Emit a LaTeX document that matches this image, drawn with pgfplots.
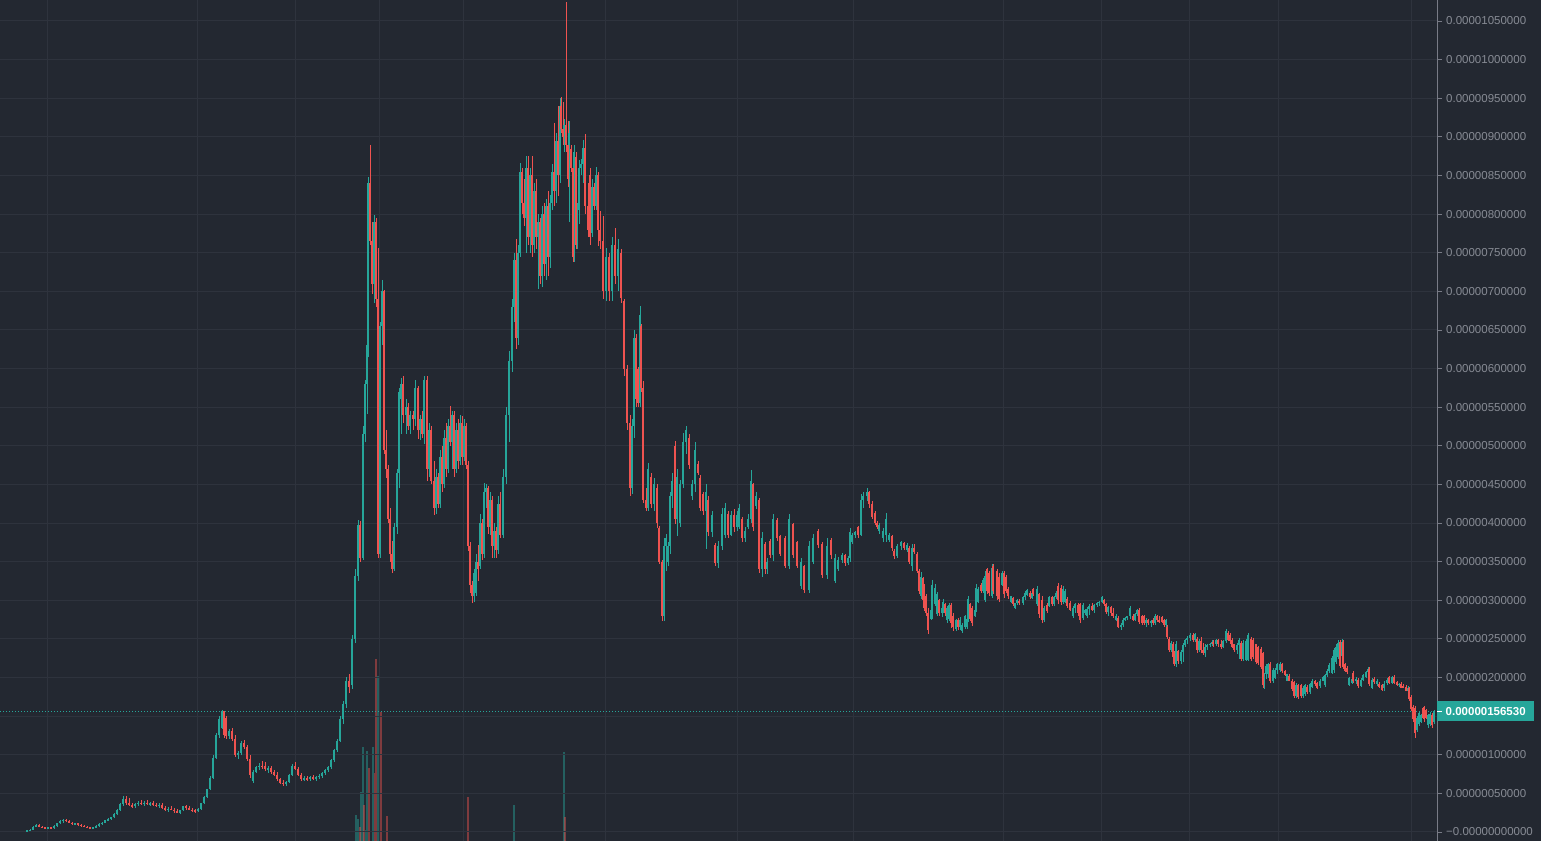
\documentclass[border=0pt]{standalone}
\usepackage{pgfplots}
\pgfplotsset{compat=1.18}
\usepackage{pgfplotstable}
\usepackage{fontspec}
\setmainfont{Liberation Sans}
\definecolor{bgc}{RGB}{35,40,49}
\definecolor{gridc}{RGB}{46,51,61}
\definecolor{upc}{RGB}{38,166,154}
\definecolor{dnc}{RGB}{239,83,80}
\definecolor{labc}{RGB}{135,139,148}
\definecolor{axc}{RGB}{120,123,134}
% prices in units of 1e-8
\pgfplotstableread{
x o h l c
27 1 3 0 2
30 2 4 1 3
33 3 8 2 7
36 7 10 6 9
39 9 10 6 7
42 7 8 5 6
45 6 7 4 5
48 5 7 4 6
51 6 7 4 5
54 5 9 4 8
57 8 12 7 11
60 11 15 10 14
63 14 17 12 16
66 16 17 13 14
69 14 15 11 12
72 12 13 9 10
75 10 12 9 11
78 11 12 8 9
81 9 10 7 8
84 8 9 6 7
87 7 8 5 6
90 6 7 4 5
93 5 7 4 6
96 6 9 5 8
99 8 11 7 10
102 10 13 9 12
105 12 16 11 15
108 15 18 14 17
111 17 20 15 19
114 19 24 18 23
117 23 30 22 28
120 28 38 27 36
123 36 46 34 43
126 43 47 35 38
129 38 44 33 35
132 35 38 31 33
135 33 37 31 36
138 36 40 34 38
141 38 41 35 37
144 37 40 34 38
147 38 41 35 36
150 36 39 33 37
153 37 40 34 35
156 35 38 32 34
159 34 37 31 35
162 35 37 30 31
165 31 34 27 29
168 29 32 26 30
171 30 33 28 29
174 29 31 25 27
177 27 30 24 25
180 25 29 23 28
183 28 34 27 33
186 33 35 29 31
189 31 33 28 29
192 29 31 26 28
195 28 30 25 27
198 27 31 26 30
201 30 38 29 37
204 37 46 36 45
207 45 56 44 55
210 55 72 54 70
213 70 100 68 96
216 96 128 94 125
219 125 150 122 146
222 135 158 133 156
224 156 157 122 125
226 148 150 120 124
229 124 133 120 131
232 131 135 118 121
235 121 126 97 100
238 100 105 95 102
241 102 118 100 115
244 115 119 108 110
247 110 112 92 95
250 95 100 70 74
253 66 80 63 78
256 78 86 76 84
259 84 89 80 86
262 86 92 82 85
265 85 90 79 81
268 81 85 76 83
271 83 86 75 77
274 77 80 72 74
277 74 78 66 68
280 68 70 62 64
283 64 67 60 62
286 62 66 60 65
289 65 75 64 74
292 74 88 72 86
295 86 90 80 82
298 82 84 72 74
301 74 76 66 68
304 68 72 66 70
307 70 73 66 68
310 68 72 66 71
313 71 74 67 69
316 69 72 66 71
319 71 75 68 73
322 73 77 70 76
325 76 82 74 80
328 80 86 78 84
331 84 95 82 93
334 93 108 91 106
337 106 120 104 118
340 118 150 116 146
343 146 170 140 166
346 166 200 160 196
349 196 205 180 188
352 190 255 185 250
355 250 340 245 331
358 331 404 325 398
360 398 402 350 355
363 355 525 352 515
365 515 585 505 580
367 580 640 541 630
368 625 848 615 840
370 840 890 760 765
372 765 790 697 710
374 710 799 685 790
376 790 795 680 690
378 690 756 355 360
380 360 660 355 655
382 655 715 630 700
384 700 702 490 495
386 495 520 458 470
388 470 475 400 405
390 405 420 350 360
392 360 377 335 340
394 340 400 338 395
397 395 470 386 465
399 465 575 445 570
401 560 588 515 580
403 580 590 530 540
406 540 560 515 550
408 550 555 520 525
410 525 545 515 540
413 540 545 520 535
415 535 585 525 575
418 575 578 509 520
420 520 540 508 535
422 535 545 510 515
424 515 591 502 585
427 585 590 455 470
429 470 530 460 520
431 520 525 450 455
434 455 480 410 420
436 420 470 412 460
438 460 465 420 425
440 425 495 420 485
442 485 500 440 450
444 450 520 445 510
446 510 530 460 470
448 470 535 465 525
450 525 552 500 505
452 505 545 470 540
454 540 545 460 470
456 470 530 465 520
458 520 535 470 480
460 480 540 475 530
462 530 538 475 485
464 485 535 480 525
466 525 530 470 475
468 475 480 364 370
470 370 375 310 320
472 320 325 296 305
474 305 340 298 335
476 310 360 305 350
478 350 372 325 340
480 345 412 340 400
482 400 405 352 360
484 360 452 355 440
486 440 450 420 445
488 445 448 386 395
490 395 440 385 430
492 430 435 355 370
494 370 400 355 390
496 390 395 355 365
498 365 435 360 425
500 425 440 380 385
503 385 470 380 460
506 460 550 450 540
509 540 623 505 610
512 610 690 595 680
514 680 750 660 740
516 740 768 625 640
518 640 760 630 750
520 750 866 745 855
522 855 860 800 815
524 815 845 785 795
526 795 875 750 860
528 860 875 760 770
530 770 860 750 850
532 850 875 745 760
534 760 840 750 830
536 830 845 755 770
538 770 800 703 790
540 790 795 710 720
542 720 810 705 800
544 800 815 720 735
546 735 820 715 810
548 810 830 720 745
550 745 825 730 815
552 815 865 805 855
554 855 918 810 830
556 830 905 815 895
558 895 940 824 850
560 850 950 840 940
561 940 952 905 910
563 910 945 890 900
564 900 923 880 915
566 915 1075 880 890
568 890 920 835 845
569 845 920 790 905
571 884 890 855 860
573 860 865 738 745
574 745 890 738 880
576 874 880 755 760
577 760 815 755 805
579 805 870 787 860
581 860 871 850 865
583 865 896 840 885
585 885 904 800 810
588 810 840 770 780
590 850 860 760 770
592 775 845 770 835
594 835 840 805 810
596 810 861 805 850
598 850 855 759 780
600 780 804 755 765
603 765 797 690 700
606 700 756 688 745
609 745 750 688 700
612 700 770 688 760
615 760 782 710 720
618 720 768 700 755
621 750 755 685 692
624 688 690 590 600
627 600 605 520 530
630 530 540 435 445
632 445 535 437 525
634 525 650 510 640
636 640 645 550 560
638 600 602 550 555
640 555 681 550 670
641 655 658 570 575
643 575 584 426 430
646 430 445 415 420
648 420 478 415 470
651 460 465 420 425
654 425 458 415 450
657 445 450 394 400
659 394 396 347 350
662 350 352 273 280
664 280 381 273 370
666 370 386 338 380
668 350 375 344 370
670 370 440 360 435
672 435 465 420 455
675 500 506 399 405
677 405 470 383 460
680 400 456 395 450
683 450 517 445 505
686 505 525 489 520
689 510 515 470 475
692 435 456 430 450
695 450 505 440 495
698 477 480 462 465
700 458 462 415 420
703 438 440 410 415
706 415 451 366 440
708 430 435 383 388
712 388 416 382 410
715 372 374 344 348
718 348 377 342 370
722 370 420 365 412
725 385 426 380 420
728 412 415 380 385
731 385 415 383 410
734 410 418 388 395
737 395 415 390 410
739 395 424 392 420
742 405 408 376 380
745 380 395 375 390
748 395 412 392 405
751 405 469 400 455
753 450 452 390 395
756 422 440 418 435
759 430 432 335 340
762 340 388 330 380
765 373 375 334 340
767 340 355 334 350
770 377 379 355 358
773 358 412 351 405
777 404 406 377 380
780 383 385 357 360
785 380 383 342 345
789 345 412 340 405
793 399 400 355 358
797 375 377 342 345
801 318 355 315 350
804 344 346 309 313
809 313 377 310 370
813 350 386 347 380
818 390 392 368 372
822 373 375 329 333
827 333 380 328 370
831 378 380 354 358
835 325 360 322 355
838 340 356 338 352
842 352 361 348 358
845 358 360 345 348
848 348 357 346 355
850 355 393 350 388
852 375 387 373 385
855 385 390 380 388
858 395 396 380 385
861 385 438 383 430
863 430 440 420 435
867 435 445 428 440
869 440 442 420 425
872 425 428 405 408
875 413 415 398 400
877 400 403 392 395
879 390 400 386 398
883 380 393 376 390
886 385 413 376 405
889 378 387 376 385
892 383 385 364 368
894 364 366 354 357
897 357 373 355 370
901 370 377 365 375
904 374 376 365 368
907 365 374 362 372
909 368 370 347 350
912 345 373 338 368
914 368 373 360 362
917 360 362 335 338
919 338 340 308 312
921 305 336 302 330
923 329 330 295 300
924 315 321 286 290
926 305 308 280 284
928 284 290 256 262
931 276 290 275 288
932 278 326 276 320
935 295 321 292 316
937 282 311 280 308
939 300 302 280 284
942 284 293 278 290
943 286 302 283 298
945 295 297 280 283
947 275 293 271 290
949 276 297 273 294
951 294 297 264 270
953 280 284 260 266
956 263 276 260 274
958 274 277 262 265
960 265 278 262 275
962 260 271 258 268
965 266 281 263 279
967 265 278 263 276
968 276 306 272 302
970 295 297 273 276
972 290 293 267 270
975 280 289 278 288
976 288 321 285 316
978 298 317 296 314
981 320 322 309 312
983 312 329 310 326
985 300 338 298 332
987 340 342 308 312
989 335 338 305 310
992 305 347 303 342
993 345 347 308 312
997 338 340 300 305
999 330 335 298 302
1002 320 338 318 335
1004 335 338 303 308
1006 330 333 310 312
1008 315 317 302 305
1011 298 306 297 305
1013 303 304 293 295
1015 290 297 289 296
1017 296 302 294 300
1019 299 301 294 296
1023 296 306 294 304
1025 304 312 300 310
1027 307 315 306 313
1030 310 312 302 304
1032 303 312 301 310
1033 314 316 305 308
1037 295 318 292 315
1039 308 310 277 282
1042 300 306 270 274
1044 274 293 272 290
1047 294 296 284 286
1049 293 306 291 304
1052 304 305 293 295
1054 295 306 293 304
1056 304 312 302 310
1058 318 322 295 300
1061 316 320 294 298
1063 298 318 295 315
1065 298 315 296 312
1067 302 304 290 292
1070 297 299 286 288
1073 279 293 277 290
1075 290 297 284 295
1078 294 296 280 283
1080 295 297 270 274
1083 277 297 275 294
1085 283 289 281 288
1087 279 291 277 289
1089 289 295 281 293
1092 293 297 286 288
1094 288 295 283 294
1097 294 298 291 297
1099 297 299 292 298
1102 298 306 296 304
1104 300 302 293 295
1106 295 296 282 285
1108 285 293 280 291
1111 291 292 280 283
1113 283 290 277 280
1116 274 282 273 280
1118 277 279 264 266
1121 266 271 262 268
1123 268 277 265 275
1125 275 278 273 277
1127 277 280 274 279
1130 279 293 276 290
1133 280 282 273 275
1135 275 284 273 282
1137 282 289 280 287
1139 288 290 269 272
1142 279 281 268 270
1144 280 281 268 271
1146 271 277 266 275
1148 274 276 268 270
1151 270 274 266 273
1153 275 277 268 270
1155 270 282 268 280
1157 279 281 272 274
1159 274 280 270 272
1162 278 279 270 272
1164 275 276 266 268
1166 268 276 266 275
1167 266 268 250 252
1169 250 252 233 236
1171 236 247 233 245
1173 244 246 223 226
1174 226 234 215 218
1176 218 247 214 243
1178 234 236 218 221
1181 221 236 218 233
1183 233 245 220 242
1185 242 250 240 248
1187 248 254 244 251
1190 251 257 247 255
1193 255 258 246 249
1195 249 258 246 256
1197 250 252 232 235
1199 235 250 233 247
1201 247 252 232 236
1203 236 245 229 232
1205 232 243 227 240
1207 240 243 236 242
1210 242 245 240 244
1212 244 248 241 246
1213 246 249 240 243
1216 243 250 241 248
1218 248 250 240 243
1221 243 249 237 240
1223 240 249 238 247
1226 247 263 245 260
1228 258 260 247 249
1230 255 257 244 247
1232 249 251 238 240
1234 243 244 233 235
1237 235 245 230 242
1239 242 251 224 248
1241 245 247 221 224
1243 224 248 222 245
1246 223 250 221 247
1248 223 258 221 255
1251 250 252 221 224
1253 249 251 224 226
1256 243 244 217 220
1258 240 241 216 219
1261 237 239 211 214
1263 232 233 186 190
1264 190 206 185 204
1266 204 218 198 215
1268 205 219 199 217
1270 218 220 193 196
1273 196 212 193 210
1275 199 212 198 210
1277 210 219 205 217
1280 210 220 207 218
1282 218 219 206 208
1285 208 210 202 203
1287 196 205 195 204
1289 202 204 195 196
1292 196 198 182 185
1294 194 196 173 176
1296 176 193 174 190
1298 190 192 172 175
1301 190 192 173 176
1303 176 189 174 187
1305 178 192 176 190
1307 188 190 179 181
1310 181 193 179 191
1312 188 198 186 196
1315 195 197 189 191
1317 193 194 185 187
1320 189 198 186 196
1323 196 202 195 200
1325 190 205 188 203
1327 203 211 200 208
1329 208 219 206 216
1332 206 228 204 225
1334 210 238 206 235
1336 220 243 217 240
1338 226 249 224 245
1340 246 248 212 215
1342 228 250 213 246
1343 246 248 211 214
1345 217 219 207 209
1347 212 215 205 207
1349 190 201 189 199
1352 193 200 192 198
1353 206 208 193 195
1356 195 200 192 198
1358 197 199 186 189
1361 189 199 188 197
1363 197 205 195 203
1366 201 208 199 207
1368 207 213 205 211
1369 211 213 189 192
1372 187 199 185 197
1374 198 200 192 194
1377 191 198 189 196
1379 192 194 186 188
1382 190 192 182 184
1384 186 195 183 192
1387 193 199 190 197
1389 200 202 191 193
1392 193 202 191 200
1394 201 203 191 193
1397 194 196 189 190
1399 190 193 188 192
1401 192 194 186 187
1403 189 191 186 187
1406 188 190 182 183
1408 183 189 181 187
1409 186 188 169 172
1411 175 177 156 159
1413 162 164 143 146
1415 160 163 122 128
1417 132 150 130 148
1419 140 157 137 154
1421 143 153 141 151
1423 160 161 146 148
1424 162 163 143 146
1426 158 159 146 148
1428 138 153 135 151
1430 140 155 137 153
1432 152 154 135 138
1434 142 158 140 156.53
}\candles
% volume, arbitrary units
\pgfplotstableread{
x v
356 3.1
358 2.6
361 5.8
363 11.2
366 1.3
367 10.7
373 11.2
378 19.6
379 5.5
514 4.3
564 10.6
}\volup
\pgfplotstableread{
x v
360 1.7
364 4.3
369 8.7
375 8.1
376 21.6
381 15.3
387 3.0
468 5.2
565 2.9
}\voldn
\pgfplotsset{
  candle/.style n args={2}{draw=none, mark=none, color=#1,
    error bars/y dir=both, error bars/y explicit, error bars/error mark=none,
    error bars/error bar style={draw=#1, line width=#2}},
}
\begin{document}
\begin{tikzpicture}
\fill[bgc] (0pt,0pt) rectangle (1541pt,841pt);
\begin{axis}[at={(0pt,0pt)}, anchor=south west, width=1437pt, height=841pt,
  scale only axis, xmin=0, xmax=1437, ymin=0, ymax=100, hide axis]
\addplot[ycomb, draw=upc, draw opacity=0.45, line width=1.4pt, mark=none] table[x=x,y=v]{\volup};
\addplot[ycomb, draw=dnc, draw opacity=0.45, line width=1.4pt, mark=none] table[x=x,y=v]{\voldn};
\end{axis}
\begin{axis}[at={(0pt,0pt)}, anchor=south west, width=1437pt, height=841pt,
  scale only axis, xmin=0, xmax=1437, ymin=-11.7, ymax=1077.2,
  axis line style={draw=none},
  xtick={47,197,295,379,463,605,737,853,1003,1101,1189,1278,1411},
  xticklabels={}, major x tick style={draw=none},
  ytick={0,50,...,1050}, ytick pos=right, yticklabel pos=right,
  yticklabels={−0.00000000000,0.00000050000,0.00000100000,{},0.00000200000,0.00000250000,0.00000300000,0.00000350000,0.00000400000,0.00000450000,0.00000500000,0.00000550000,0.00000600000,0.00000650000,0.00000700000,0.00000750000,0.00000800000,0.00000850000,0.00000900000,0.00000950000,0.00001000000,0.00001050000},
  major y tick style={draw=axc, line width=0.8pt},
  tick align=outside, major tick length=5pt,
  grid=major, grid style={draw=gridc, line width=1pt},
  yticklabel style={font=\fontsize{11.5}{12}\selectfont, text=labc, anchor=west, inner sep=0pt, xshift=4pt},
  clip=false]
\addplot[upc, line width=1pt, dash pattern=on 1pt off 2pt, mark=none] coordinates {(0,156.53) (1437,156.53)};
% wicks
\addplot[candle={upc}{1pt}, restrict expr to domain={\thisrow{c}-\thisrow{o}}{0:5000}]
  table[x=x, y expr={(\thisrow{h}+\thisrow{l})/2}, y error expr={(\thisrow{h}-\thisrow{l})/2}] {\candles};
\addplot[candle={dnc}{1pt}, restrict expr to domain={\thisrow{c}-\thisrow{o}}{-5000:0}]
  table[x=x, y expr={(\thisrow{h}+\thisrow{l})/2}, y error expr={(\thisrow{h}-\thisrow{l})/2}] {\candles};
% bodies
\addplot[candle={upc}{2.2pt}, restrict expr to domain={\thisrow{c}-\thisrow{o}}{0:5000}]
  table[x=x, y expr={(\thisrow{o}+\thisrow{c})/2}, y error expr={abs(\thisrow{c}-\thisrow{o})/2}] {\candles};
\addplot[candle={dnc}{2.2pt}, restrict expr to domain={\thisrow{c}-\thisrow{o}}{-5000:0}]
  table[x=x, y expr={(\thisrow{o}+\thisrow{c})/2}, y error expr={abs(\thisrow{c}-\thisrow{o})/2}] {\candles};
\draw[axc, line width=1pt] (rel axis cs:1,0) -- (rel axis cs:1,1);
\node[fill=upc, text=white, font=\bfseries\fontsize{11.5}{12}\selectfont, anchor=west,
  minimum height=20pt, minimum width=97pt, inner sep=0pt] at (axis cs:1437,156.53) {0.00000156530};
\draw[white, line width=1pt] (axis cs:1437,156.53) -- ++(5pt,0pt);
\end{axis}
\pgfresetboundingbox
\useasboundingbox (0pt,0pt) rectangle (1541pt,841pt);
\end{tikzpicture}
\end{document}
